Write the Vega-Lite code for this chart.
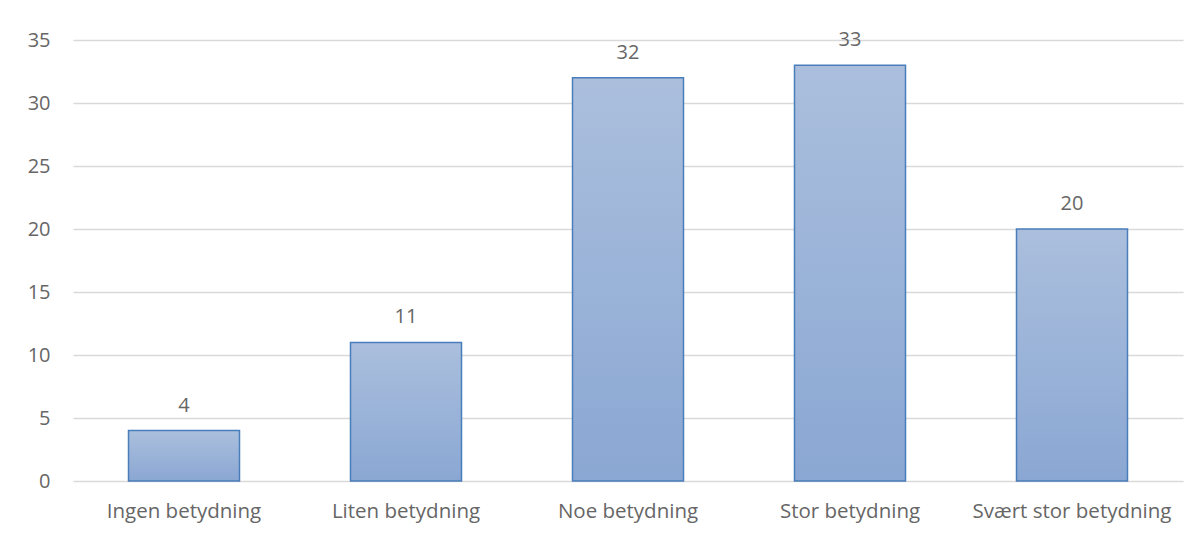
{
  "$schema": "https://vega.github.io/schema/vega-lite/v6.json",
  "autosize": "none",
  "width": 1110,
  "height": 441,
  "padding": {"left": 73, "top": 40, "right": 17, "bottom": 52},
  "background": "white",
  "config": {
    "view": {"stroke": null},
    "font": "Open Sans"
  },
  "data": {
    "values": [
      {"kategori": "Ingen betydning", "verdi": 4},
      {"kategori": "Liten betydning", "verdi": 11},
      {"kategori": "Noe betydning", "verdi": 32},
      {"kategori": "Stor betydning", "verdi": 33},
      {"kategori": "Svært stor betydning", "verdi": 20}
    ]
  },
  "encoding": {
    "x": {
      "field": "kategori",
      "type": "nominal",
      "sort": null,
      "scale": {"paddingInner": 0.5, "paddingOuter": 0.25},
      "axis": {
        "title": null,
        "labelAngle": 0,
        "labelFontSize": 20.5,
        "labelColor": "#666666",
        "labelPadding": 20,
        "labelLimit": 400,
        "labelOverlap": false,
        "ticks": false,
        "domain": false
      }
    },
    "y": {
      "field": "verdi",
      "type": "quantitative",
      "scale": {"domain": [0, 35], "nice": false},
      "axis": {
        "title": null,
        "values": [0, 5, 10, 15, 20, 25, 30, 35],
        "labelFontSize": 20,
        "labelColor": "#666666",
        "labelPadding": 23,
        "ticks": false,
        "domain": false,
        "gridColor": "#d9d9d9",
        "gridWidth": 1.3
      }
    }
  },
  "layer": [
    {
      "mark": {
        "type": "bar",
        "stroke": "#4a7ebb",
        "strokeWidth": 1.5,
        "color": {
          "gradient": "linear",
          "x1": 0, "y1": 0, "x2": 0, "y2": 1,
          "stops": [
            {"offset": 0, "color": "#abbfdd"},
            {"offset": 1, "color": "#8aa7d3"}
          ]
        }
      }
    },
    {
      "mark": {
        "type": "text",
        "baseline": "middle",
        "dy": -25,
        "fontSize": 20,
        "color": "#666666"
      },
      "encoding": {"text": {"field": "verdi", "type": "quantitative"}}
    }
  ]
}
